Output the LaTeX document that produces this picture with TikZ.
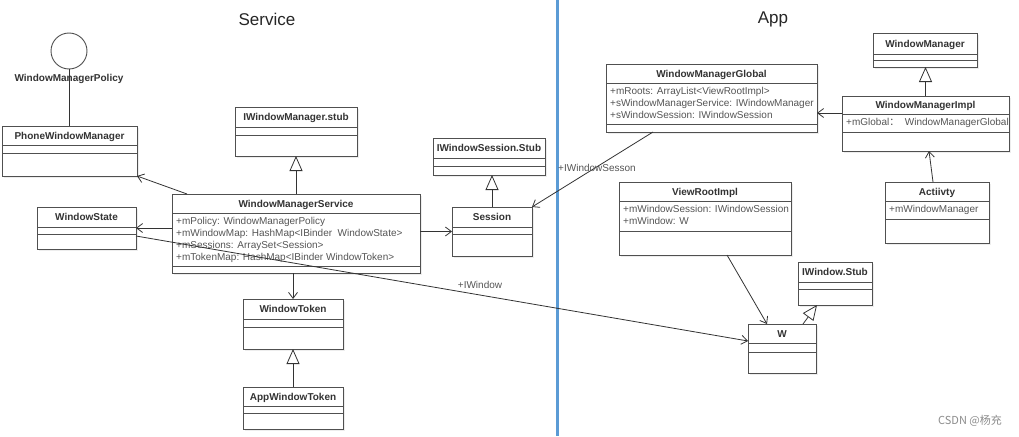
\documentclass[tikz,border=0pt]{standalone}
\usepackage{fontspec}
\setmainfont{Liberation Sans}
\newfontfamily\cjkfont{Noto Sans CJK SC}
\usetikzlibrary{arrows.meta,fit}
\definecolor{boxline}{HTML}{505050}
\definecolor{linecol}{HTML}{333333}
\definecolor{namecol}{HTML}{333333}
\definecolor{attrcol}{HTML}{555555}
\definecolor{divblue}{RGB}{91,155,213}
\tikzset{
  classbox/.style={draw=boxline, line width=0.9pt, fill=white, inner sep=0pt, outer sep=0pt},
  boxshadow/.style={fill=black!7},
  divline/.style={draw=boxline, line width=0.9pt},
  nametext/.style={font=\fontsize{10}{12}\selectfont\bfseries, text=namecol, inner sep=0pt, anchor=base},
  attrtext/.style={font=\fontsize{10}{12}\selectfont, text=attrcol, inner sep=0pt, align=left, anchor=north west},
  lbltext/.style={font=\fontsize{10}{12}\selectfont, text=attrcol, inner sep=0pt},
  titletext/.style={font=\fontsize{17}{20}\selectfont, text=black!85, inner sep=0pt},
  assoc/.style={draw=linecol, line width=0.8pt, -{Straight Barb[length=6pt,width=9pt]}},
  gener/.style={draw=linecol, line width=0.8pt, -{Triangle[open,length=15pt,width=13pt,fill=white]}},
  plainline/.style={draw=linecol, line width=0.8pt},
}
% #1 name, #2 x1, #3 y1, #4 x2, #5 y2, #6 divider1, #7 divider2, #8 title, #9 attributes
\newcommand\umlclass[9]{%
  \fill[boxshadow] (#2+2,#3+2) rectangle (#4+2,#5+2);
  \node[classbox, fit={(#2,#3) (#4,#5)}] (#1) {};
  \draw[divline] (#2,#6) -- (#4,#6);
  \draw[divline] (#2,#7) -- (#4,#7);
  \node[nametext] (#1-t) at ({(#2+#4)/2},{(#3+#6)/2+3.6}) {#8};
  \node[attrtext] (#1-a) at (#2+4,#6+4.5) {#9};
}
\begin{document}
\begin{tikzpicture}[x=1pt,y=-1pt]
\useasboundingbox (0,0) rectangle (1019,436);
\fill[white] (0,0) rectangle (1019,436);

% titles
\node[titletext] (tsvc) at (267,19) {Service};
\node[titletext] (tapp) at (773,19) {App};

% separator
\draw[divblue, line width=3pt] (557,0) -- (557,436);

% interface lollipop
\node[circle, draw=boxline, line width=0.9pt, fill=white, minimum size=36pt, inner sep=0pt] (pol) at (69,51) {};

% classes
\umlclass{pwm}{2}{126}{137}{176}{145}{153}{PhoneWindowManager}{}
\umlclass{iwms}{235}{107}{357}{156}{127}{135}{IWindowManager.stub}{}
\umlclass{wms}{172}{194}{420}{273}{213}{266}{WindowManagerService}{+mPolicy: WindowManagerPolicy\\+mWindowMap: HashMap<IBinder\ \ WindowState>\\+mSessions: ArraySet<Session>\\+mTokenMap: HashMap<IBinder WindowToken>}
\umlclass{ws}{37}{207}{136}{249}{227}{234}{WindowState}{}
\umlclass{iwss}{433}{138}{545}{175}{158}{166}{IWindowSession.Stub}{}
\umlclass{sess}{452}{207}{532}{256}{227}{234}{Session}{}
\umlclass{wt}{243}{299}{343}{349}{319}{327}{WindowToken}{}
\umlclass{awt}{243}{387}{343}{429}{406}{413}{AppWindowToken}{}
\umlclass{wmg}{606}{64}{817}{132}{83}{124}{WindowManagerGlobal}{+mRoots: ArrayList<ViewRootImpl>\\+sWindowManagerService: IWindowManager\\+sWindowSession: IWindowSession}
\umlclass{wm}{873}{33}{977}{67}{54}{60}{WindowManager}{}
\umlclass{wmi}{842}{96}{1009}{151}{114}{132}{WindowManagerImpl}{+mGlobal{\cjkfont ：}\ \ WindowManagerGlobal}
\umlclass{vri}{619}{182}{791}{255}{201}{231}{ViewRootImpl}{+mWindowSession: IWindowSession\\+mWindow: W}
\umlclass{act}{885}{182}{989}{243}{201}{219}{Actiivty}{+mWindowManager}
\umlclass{iws}{798}{262}{872}{305}{282}{289}{IWindow.Stub}{}
\umlclass{w}{748}{324}{816}{373}{343}{352}{W}{}

% lollipop connection and label
\draw[plainline] (pol.south) -- (pol.south |- pwm.north);
\node[nametext, anchor=center] (polname) at (69,79) {WindowManagerPolicy};

% connectors (service side)
\draw[assoc] ([xshift=15pt]wms.north west) -- (pwm.south east);
\draw[gener] (wms.north) -- (iwms.south);
\draw[assoc] (wms.west |- ws.east) -- (ws.east);
\draw[assoc] ([yshift=-29pt]ws.north east) -- ([yshift=-17pt]w.north west);
\node[lbltext] (lblwin) at (480,285) {+IWindow};
\draw[assoc] (wms.east |- sess.west) -- (sess.west);
\draw[gener] (sess.north) -- (sess.north |- iwss.south);
\draw[assoc] (wt.north |- wms.south) -- (wt.north);
\draw[gener] (awt.north) -- (wt.south);

% connectors (app side)
\draw[assoc] ([xshift=47pt]wmg.south west) -- (sess.north east);
\node[lbltext] (lblsess) at (597,168) {+IWindowSesson};
\coordinate (wmiL) at ([yshift=-17pt]wmi.north west);
\draw[assoc] (wmiL) -- (wmg.east |- wmiL);
\draw[gener] (wmi.north) -- (wmi.north |- wm.south);
\draw[assoc] ([xshift=48pt]act.north west) -- ([xshift=87pt]wmi.south west);
\draw[assoc] ([xshift=108pt]vri.south west) -- ([xshift=19pt]w.north west);
\draw[gener] ([xshift=55pt]w.north west) -- ([xshift=19pt]iws.south west);

% watermark
\node[font=\cjkfont\fontsize{11}{13}\selectfont, text=black!45, inner sep=0pt] (wmark) at (970,421) {CSDN @杨充};
\end{tikzpicture}
\end{document}
